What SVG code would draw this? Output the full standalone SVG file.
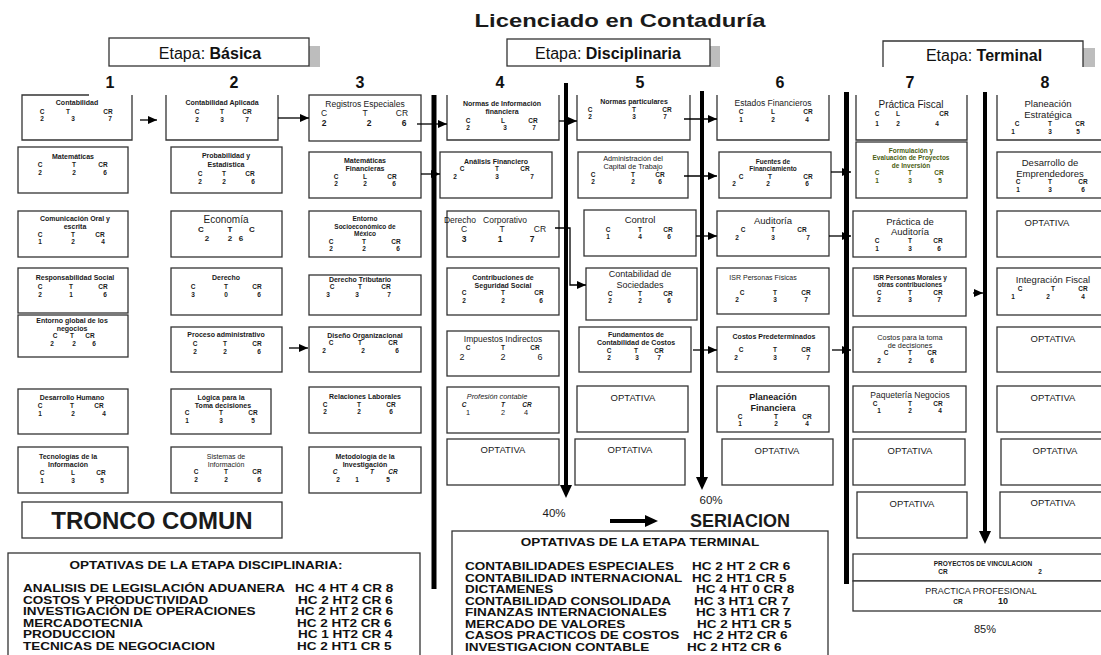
<svg xmlns="http://www.w3.org/2000/svg" width="1101" height="655" viewBox="0 0 1101 655">
<style>
text{font-family:"Liberation Sans",Arial,sans-serif;fill:#1a1a1a;text-anchor:middle}
.bx{fill:#fff;stroke:#333;stroke-width:1.3}
.ob{fill:#fff;stroke:#333;stroke-width:1.3}
.b7{font-weight:bold;font-size:7px}
.b6{font-weight:bold;font-size:6.5px}
.r7{font-size:7.3px}
.r8{font-size:8.5px}
.r9{font-size:9px}
.r10{font-size:10px}
.op{font-size:9.5px}
.it{font-style:italic}
.grn{fill:#4b5e12}
.lst{font-weight:bold;font-size:10.4px;text-anchor:start;fill:#111}
.lt{font-weight:bold;font-size:10.4px;fill:#111}
.num{font-weight:bold;font-size:16px;fill:#111}
.et{font-size:16px;fill:#111}
.conn{stroke:#000;stroke-width:1.3;fill:none;marker-end:url(#ah)}
.bar{stroke:#000;fill:none}
.sh{fill:#bdbdbd}
</style>
<defs>
<marker id="ah" markerWidth="9" markerHeight="8" refX="9" refY="4" orient="auto" markerUnits="userSpaceOnUse"><path d="M0,0 L9,4 L0,8 Z" fill="#000"/></marker>
</defs>

<text x="620" y="27" font-weight="bold" font-size="19" textLength="291" lengthAdjust="spacingAndGlyphs" fill="#111">Licenciado en Contaduría</text>

<g id="etapa-basica"><rect class="sh" x="309" y="46" width="11" height="21"/><rect class="bx" x="109" y="38" width="200" height="28"/><text class="et" x="210" y="58.5">Etapa: <tspan font-weight="bold">Básica</tspan></text></g>
<g id="etapa-disciplinaria"><rect class="sh" x="710" y="46" width="10" height="21"/><rect class="bx" x="507" y="39" width="203" height="27"/><text class="et" x="608" y="58.5">Etapa: <tspan font-weight="bold">Disciplinaria</tspan></text></g>
<g id="etapa-terminal"><rect class="sh" x="1083" y="48" width="12" height="19"/><path class="ob" d="M883,67 V41 H1083 V67"/><text class="et" x="984" y="60.5">Etapa: <tspan font-weight="bold">Terminal</tspan></text></g>

<g id="semestres">
<text class="num" x="110" y="88">1</text><text class="num" x="234" y="88">2</text><text class="num" x="360" y="88">3</text><text class="num" x="500" y="88">4</text>
<text class="num" x="640" y="88">5</text><text class="num" x="780" y="88">6</text><text class="num" x="910" y="88">7</text><text class="num" x="1045" y="88">8</text>
</g>

<!-- Column 1 -->
<g id="n-contabilidad"><path class="ob" d="M89,95 H22 V140 H132 V95"/><text class="b7" x="77" y="105">Contabilidad</text><text class="b6" y="113.5"><tspan x="42">C</tspan><tspan x="68">T</tspan><tspan x="108">CR</tspan></text><text class="b6" y="121"><tspan x="42">2</tspan><tspan x="73">3</tspan><tspan x="110">7</tspan></text></g>
<g id="n-matematicas"><rect class="bx" x="18" y="147" width="110" height="46"/><text class="b7" x="73" y="159">Matemáticas</text><text class="b6" y="166.5"><tspan x="40">C</tspan><tspan x="74">T</tspan><tspan x="103">CR</tspan></text><text class="b6" y="174.5"><tspan x="40">2</tspan><tspan x="74">2</tspan><tspan x="105">6</tspan></text></g>
<g id="n-comunicacion"><rect class="bx" x="18" y="211" width="110" height="46"/><text class="b7" x="75" y="221">Comunicación Oral y</text><text class="b7" x="75" y="229">escrita</text><text class="b6" y="236.5"><tspan x="40">C</tspan><tspan x="73">T</tspan><tspan x="100">CR</tspan></text><text class="b6" y="244"><tspan x="40">1</tspan><tspan x="73">2</tspan><tspan x="103">4</tspan></text></g>
<g id="n-responsabilidad"><rect class="bx" x="18" y="268" width="110" height="45"/><text class="b7" x="75" y="280">Responsabilidad Social</text><text class="b6" y="289"><tspan x="40">C</tspan><tspan x="71">T</tspan><tspan x="103">CR</tspan></text><text class="b6" y="297"><tspan x="40">2</tspan><tspan x="71">1</tspan><tspan x="105">6</tspan></text></g>
<g id="n-entorno-global"><rect class="bx" x="18" y="315" width="110" height="42"/><text class="b7" x="72" y="322.5">Entorno global de los</text><text class="b7" x="72" y="330.5">negocios</text><text class="b6" y="338"><tspan x="55">C</tspan><tspan x="72">T</tspan><tspan x="90">CR</tspan></text><text class="b6" y="345.5"><tspan x="52">2</tspan><tspan x="74">2</tspan><tspan x="94">6</tspan></text></g>
<g id="n-desarrollo-humano"><rect class="bx" x="18" y="389" width="110" height="45"/><text class="b7" x="72" y="400">Desarrollo Humano</text><text class="b6" y="408"><tspan x="40">C</tspan><tspan x="72">T</tspan><tspan x="99">CR</tspan></text><text class="b6" y="416"><tspan x="40">1</tspan><tspan x="73">2</tspan><tspan x="104">4</tspan></text></g>
<g id="n-tecnologias"><rect class="bx" x="18" y="447" width="110" height="46"/><text class="b7" x="68" y="459">Tecnologías de la</text><text class="b7" x="68" y="467">Información</text><text class="b6" y="475"><tspan x="42">C</tspan><tspan x="73">L</tspan><tspan x="101">CR</tspan></text><text class="b6" y="483"><tspan x="42">1</tspan><tspan x="73">3</tspan><tspan x="102">5</tspan></text></g>
<g id="tronco-comun"><rect class="bx" x="22" y="502" width="260" height="36"/><text x="152" y="528.5" font-weight="bold" font-size="24" fill="#111">TRONCO COMUN</text></g>

<!-- Column 2 -->
<g id="n-contabilidad-aplicada"><path class="ob" d="M166,95 V140 H278 V95"/><text class="b7" x="222" y="105">Contabilidad Aplicada</text><text class="b6" y="113.5"><tspan x="197">C</tspan><tspan x="222">T</tspan><tspan x="247">CR</tspan></text><text class="b6" y="122"><tspan x="197">2</tspan><tspan x="222">3</tspan><tspan x="247">7</tspan></text></g>
<g id="n-probabilidad"><rect class="bx" x="171" y="147" width="111" height="46"/><text class="b7" x="226" y="158">Probabilidad y</text><text class="b7" x="226" y="167">Estadística</text><text class="b6" y="176"><tspan x="200">C</tspan><tspan x="224">T</tspan><tspan x="250">CR</tspan></text><text class="b6" y="184"><tspan x="200">2</tspan><tspan x="224">2</tspan><tspan x="253">6</tspan></text></g>
<g id="n-economia"><rect class="bx" x="171" y="211" width="111" height="46"/><text class="r10" x="226" y="222.5">Economía</text><text font-size="8px" font-weight="bold" y="232"><tspan x="201">C</tspan><tspan x="230">T</tspan><tspan x="252">C</tspan></text><text font-size="8px" font-weight="bold" y="241"><tspan x="207">2</tspan><tspan x="230">2</tspan><tspan x="241">6</tspan></text></g>
<g id="n-derecho"><rect class="bx" x="171" y="268" width="111" height="47"/><text class="b7" x="226" y="280">Derecho</text><text class="b6" y="289"><tspan x="193">C</tspan><tspan x="226">T</tspan><tspan x="257">CR</tspan></text><text class="b6" y="297"><tspan x="193">3</tspan><tspan x="226">0</tspan><tspan x="259">6</tspan></text></g>
<g id="n-proceso"><rect class="bx" x="171" y="327" width="111" height="45"/><text class="b7" x="226" y="337">Proceso administrativo</text><text class="b6" y="345.5"><tspan x="195">C</tspan><tspan x="225">T</tspan><tspan x="257">CR</tspan></text><text class="b6" y="354"><tspan x="195">2</tspan><tspan x="225">2</tspan><tspan x="259">6</tspan></text></g>
<g id="n-logica"><rect class="bx" x="171" y="389" width="100" height="45"/><text class="b7" x="221" y="399.5">Lógica para la</text><text class="b7" x="223" y="407.5">Toma decisiones</text><text class="b6" y="415"><tspan x="187">C</tspan><tspan x="221">T</tspan><tspan x="253">CR</tspan></text><text class="b6" y="422.5"><tspan x="187">1</tspan><tspan x="221">3</tspan><tspan x="253">5</tspan></text></g>
<g id="n-sistemas"><rect class="bx" x="171" y="447" width="111" height="46"/><text font-size="7px" x="226" y="458.5">Sistemas de</text><text font-size="7px" x="226" y="466.5">Información</text><text class="b6" y="474"><tspan x="196">C</tspan><tspan x="226">T</tspan><tspan x="257">CR</tspan></text><text class="b6" y="481.5"><tspan x="196">2</tspan><tspan x="226">2</tspan><tspan x="259">6</tspan></text></g>

<!-- Column 3 -->
<g id="n-registros"><rect class="bx" x="309" y="95" width="112" height="46"/><text class="r8" x="365" y="106.5">Registros Especiales</text><text class="r8" y="116"><tspan x="324">C</tspan><tspan x="365">T</tspan><tspan x="402">CR</tspan></text><text class="r8" font-weight="bold" y="125.5"><tspan x="324">2</tspan><tspan x="369">2</tspan><tspan x="404">6</tspan></text></g>
<g id="n-mat-financieras"><rect class="bx" x="309" y="152" width="112" height="46"/><text class="b7" x="365" y="163">Matemáticas</text><text class="b7" x="365" y="171">Financieras</text><text class="b6" y="178.5"><tspan x="336">C</tspan><tspan x="365">L</tspan><tspan x="392">CR</tspan></text><text class="b6" y="186"><tspan x="336">2</tspan><tspan x="365">2</tspan><tspan x="394">6</tspan></text></g>
<g id="n-entorno-socio"><rect class="bx" x="309" y="211" width="112" height="46"/><text class="b6" x="365" y="221">Entorno</text><text class="b6" x="365" y="228.5">Socioeconómico de</text><text class="b6" x="365" y="236">México</text><text class="b6" y="243.5"><tspan x="331">C</tspan><tspan x="364">T</tspan><tspan x="396">CR</tspan></text><text class="b6" y="251"><tspan x="331">2</tspan><tspan x="364">2</tspan><tspan x="398">6</tspan></text></g>
<g id="n-derecho-tributario"><rect class="bx" x="309" y="275" width="112" height="40"/><text class="b7" x="360" y="281.5">Derecho Tributario</text><text class="b6" y="289"><tspan x="332">C</tspan><tspan x="360">T</tspan><tspan x="386">CR</tspan></text><text class="b6" y="296.5"><tspan x="328">3</tspan><tspan x="357">3</tspan><tspan x="389">7</tspan></text></g>
<g id="n-diseno"><rect class="bx" x="309" y="327" width="112" height="45"/><text class="b7" x="365" y="337.5">Diseño Organizacional</text><text class="b6" y="345"><tspan x="331">C</tspan><tspan x="360">T</tspan><tspan x="393">CR</tspan></text><text class="b6" y="352.5"><tspan x="324">2</tspan><tspan x="363">2</tspan><tspan x="397">6</tspan></text></g>
<g id="n-relaciones"><rect class="bx" x="309" y="387" width="112" height="46"/><text class="b7" x="365" y="399">Relaciones Laborales</text><text class="b6" y="406.5"><tspan x="325">C</tspan><tspan x="359">T</tspan><tspan x="391">CR</tspan></text><text class="b6" y="414"><tspan x="325">2</tspan><tspan x="359">2</tspan><tspan x="391">6</tspan></text></g>
<g id="n-metodologia"><rect class="bx" x="309" y="447" width="112" height="46"/><text class="b7" x="365" y="458.5">Metodología de la</text><text class="b7" x="365" y="466.5">Investigación</text><text class="b6 it" y="474"><tspan x="335">C</tspan><tspan x="372">T</tspan><tspan x="393">CR</tspan></text><text class="b6" y="481.5"><tspan x="338">2</tspan><tspan x="357">1</tspan><tspan x="388">5</tspan></text></g>

<!-- Column 4 -->
<g id="n-normas-info"><path class="ob" d="M447,95 V140 H559 V95"/><text class="b7" x="502" y="105.5">Normas  de Información</text><text class="b7" x="502" y="114">financiera</text><text class="b6" y="122.5"><tspan x="468">C</tspan><tspan x="503">L</tspan><tspan x="533">CR</tspan></text><text class="b6" y="130"><tspan x="468">2</tspan><tspan x="505">3</tspan><tspan x="534">7</tspan></text></g>
<g id="n-analisis"><rect class="bx" x="440" y="152" width="112" height="46"/><text class="b7" x="496" y="163.5">Análisis Financiero</text><text class="b6" y="171"><tspan x="462">C</tspan><tspan x="497">T</tspan><tspan x="525">CR</tspan></text><text class="b6" y="178.5"><tspan x="455">2</tspan><tspan x="497">3</tspan><tspan x="532">7</tspan></text></g>
<g id="n-derecho-corp"><rect class="bx" x="447" y="211" width="112" height="46"/><text class="r8" x="460" y="222.5" text-anchor="start">Derecho</text><text class="r8" x="505" y="222.5" text-anchor="start">Corporativo</text><text class="r8" y="232"><tspan x="464">C</tspan><tspan x="502">T</tspan><tspan x="540">CR</tspan></text><text class="r8" font-weight="bold" y="241.5"><tspan x="464">3</tspan><tspan x="500">1</tspan><tspan x="532">7</tspan></text></g>
<g id="n-contribuciones"><rect class="bx" x="447" y="268" width="112" height="47"/><text class="b7" x="503" y="279.5">Contribuciones de</text><text class="b7" x="503" y="287.5">Seguridad Social</text><text class="b6" y="295"><tspan x="464">C</tspan><tspan x="503">T</tspan><tspan x="539">CR</tspan></text><text class="b6" y="302.5"><tspan x="464">2</tspan><tspan x="503">2</tspan><tspan x="541">6</tspan></text></g>
<g id="n-impuestos"><rect class="bx" x="447" y="331" width="112" height="45"/><text class="r8" x="503" y="342">Impuestos Indirectos</text><text class="b6" y="350"><tspan x="468">C</tspan><tspan x="503">T</tspan><tspan x="535">CR</tspan></text><text class="r9" y="359.5"><tspan x="462">2</tspan><tspan x="503">2</tspan><tspan x="540">6</tspan></text></g>
<g id="n-profesion"><rect class="bx" x="447" y="387" width="112" height="46"/><text class="r7 it" x="497" y="399">Profesión contable</text><text class="b6 it" y="406.5"><tspan x="464">C</tspan><tspan x="503">T</tspan><tspan x="527">CR</tspan></text><text class="r7" y="414.5"><tspan x="468">1</tspan><tspan x="503">2</tspan><tspan x="526">4</tspan></text></g>
<g id="n-opt-4"><rect class="bx" x="447" y="439" width="112" height="46"/><text class="op" x="503" y="452.5">OPTATIVA</text></g>

<!-- Column 5 -->
<g id="n-normas-part"><path class="ob" d="M577,95 V140 H690 V95"/><text class="b7" x="634" y="104">Normas particulares</text><text class="b6" y="111.5"><tspan x="590">C</tspan><tspan x="634">T</tspan><tspan x="667">CR</tspan></text><text class="b6" y="119"><tspan x="590">2</tspan><tspan x="634">3</tspan><tspan x="665">7</tspan></text></g>
<g id="n-administracion"><rect class="bx" x="578" y="152" width="110" height="46"/><text class="r7" x="633" y="161">Administración del</text><text class="r7" x="633" y="169">Capital de Trabajo</text><text class="b6" y="176.5"><tspan x="593">C</tspan><tspan x="633">T</tspan><tspan x="660">CR</tspan></text><text class="b6" y="184"><tspan x="593">2</tspan><tspan x="633">2</tspan><tspan x="660">6</tspan></text></g>
<g id="n-control"><rect class="bx" x="584" y="210" width="112" height="46"/><text class="op" x="640" y="223">Control</text><text class="b6" y="231.5"><tspan x="608">C</tspan><tspan x="640">T</tspan><tspan x="668">CR</tspan></text><text class="b6" y="239"><tspan x="608">1</tspan><tspan x="640">4</tspan><tspan x="669">6</tspan></text></g>
<g id="n-cont-sociedades"><rect class="bx" x="586" y="268" width="111" height="52"/><text class="r9" font-size="9.3px" x="640" y="277">Contabilidad de</text><text class="r9" font-size="9.3px" x="640" y="287.5">Sociedades</text><text class="b6" y="295.5"><tspan x="610">C</tspan><tspan x="640">T</tspan><tspan x="668">CR</tspan></text><text class="b6" y="303"><tspan x="610">2</tspan><tspan x="640">2</tspan><tspan x="669">6</tspan></text></g>
<g id="n-fundamentos"><rect class="bx" x="579" y="327" width="112" height="45"/><text class="b7" x="636" y="337">Fundamentos de</text><text class="b7" x="636" y="345">Contabilidad de Costos</text><text class="b6" y="352.5"><tspan x="609">C</tspan><tspan x="636">T</tspan><tspan x="659">CR</tspan></text><text class="b6" y="360"><tspan x="609">2</tspan><tspan x="637">3</tspan><tspan x="659">7</tspan></text></g>
<g id="n-opt-5a"><rect class="bx" x="577" y="386" width="111" height="46"/><text class="op" x="633" y="400.5">OPTATIVA</text></g>
<g id="n-opt-5b"><rect class="bx" x="575" y="439" width="110" height="46"/><text class="op" x="630" y="452.5">OPTATIVA</text></g>

<!-- Column 6 -->
<g id="n-estados"><path class="ob" d="M717,95 V140 H829 V95"/><text class="r8" x="773" y="105.5">Estados Financieros</text><text class="b6" y="113.5"><tspan x="741">C</tspan><tspan x="773">L</tspan><tspan x="808">CR</tspan></text><text class="b6" y="122"><tspan x="741">1</tspan><tspan x="773">2</tspan><tspan x="807">4</tspan></text></g>
<g id="n-fuentes"><rect class="bx" x="719" y="152" width="112" height="46"/><text class="b6" x="773" y="163.5">Fuentes de</text><text class="b6" x="773" y="171">Financiamiento</text><text class="b6" y="178.5"><tspan x="741">C</tspan><tspan x="770">T</tspan><tspan x="808">CR</tspan></text><text class="b6" y="186"><tspan x="734">2</tspan><tspan x="768">2</tspan><tspan x="807">6</tspan></text></g>
<g id="n-auditoria"><rect class="bx" x="717" y="211" width="112" height="45"/><text class="op" x="773" y="224">Auditoría</text><text class="b6" y="232"><tspan x="743">C</tspan><tspan x="773">T</tspan><tspan x="802">CR</tspan></text><text class="b6" y="239.5"><tspan x="737">2</tspan><tspan x="773">3</tspan><tspan x="808">7</tspan></text></g>
<g id="n-isr-fisicas"><rect class="bx" x="717" y="268" width="112" height="46"/><text font-size="7px" x="763" y="279.5">ISR Personas Físicas</text><text class="b6" y="294.5"><tspan x="742">C</tspan><tspan x="775">T</tspan><tspan x="806">CR</tspan></text><text class="b6" y="302"><tspan x="737">2</tspan><tspan x="775">3</tspan><tspan x="806">7</tspan></text></g>
<g id="n-costos-pred"><rect class="bx" x="717" y="327" width="112" height="45"/><text class="b7" x="774" y="338.5">Costos Predeterminados</text><text class="b6" y="351.5"><tspan x="741">C</tspan><tspan x="775">T</tspan><tspan x="806">CR</tspan></text><text class="b6" y="359.5"><tspan x="736">2</tspan><tspan x="775">3</tspan><tspan x="808">7</tspan></text></g>
<g id="n-planeacion-fin"><rect class="bx" x="717" y="386" width="112" height="46"/><text class="r9" font-weight="bold" x="773" y="400">Planeación</text><text class="r9" font-weight="bold" x="773" y="410.5">Financiera</text><text class="b6" y="418.5"><tspan x="740">C</tspan><tspan x="776">T</tspan><tspan x="807">CR</tspan></text><text class="b6" y="426"><tspan x="740">1</tspan><tspan x="776">2</tspan><tspan x="807">4</tspan></text></g>
<g id="n-opt-6"><rect class="bx" x="722" y="439" width="111" height="46"/><text class="op" x="777" y="453.5">OPTATIVA</text></g>

<!-- Column 7 -->
<g id="n-practica-fiscal"><path class="ob" d="M856,95 V140 H967 V95"/><text class="r10" x="911" y="107.5">Práctica Fiscal</text><text class="b6" y="116"><tspan x="877">C</tspan><tspan x="898">L</tspan><tspan x="944">CR</tspan></text><text class="b6" y="125.5"><tspan x="877">1</tspan><tspan x="898">2</tspan><tspan x="937">4</tspan></text></g>
<g id="n-formulacion"><rect class="bx" x="856" y="142" width="111" height="56"/><text class="b6 grn" x="911" y="152.5">Formulación y</text><text class="b6 grn" x="911" y="160">Evaluación de Proyectos</text><text class="b6 grn" x="911" y="167.5">de Inversión</text><text class="b6 grn" y="175"><tspan x="877">C</tspan><tspan x="910">T</tspan><tspan x="939">CR</tspan></text><text class="b6 grn" y="182.5"><tspan x="877">1</tspan><tspan x="910">3</tspan><tspan x="940">5</tspan></text></g>
<g id="n-practica-aud"><rect class="bx" x="853" y="211" width="113" height="46"/><text class="op" x="910" y="224.5">Práctica de</text><text class="op" x="910" y="235">Auditoría</text><text class="b6" y="243"><tspan x="877">C</tspan><tspan x="910">T</tspan><tspan x="938">CR</tspan></text><text class="b6" y="250.5"><tspan x="877">1</tspan><tspan x="910">3</tspan><tspan x="939">6</tspan></text></g>
<g id="n-isr-morales"><rect class="bx" x="853" y="268" width="113" height="48"/><text class="b6" x="910" y="279.5">ISR Personas Morales y</text><text class="b6" x="910" y="287">otras contribuciones</text><text class="b6" y="294.5"><tspan x="879">C</tspan><tspan x="910">T</tspan><tspan x="938">CR</tspan></text><text class="b6" y="302"><tspan x="879">2</tspan><tspan x="910">3</tspan><tspan x="939">7</tspan></text></g>
<g id="n-costos-decisiones"><rect class="bx" x="853" y="327" width="113" height="45"/><text class="r7" x="910" y="339.5">Costos para la toma</text><text class="r7" x="910" y="347.5">de decisiones</text><text class="b6" y="355"><tspan x="886">C</tspan><tspan x="910">T</tspan><tspan x="932">CR</tspan></text><text class="b6" y="362.5"><tspan x="879">2</tspan><tspan x="910">2</tspan><tspan x="932">6</tspan></text></g>
<g id="n-paqueteria"><rect class="bx" x="853" y="386" width="113" height="46"/><text class="r8" x="910" y="397.5">Paquetería Negocios</text><text class="b6" y="405.5"><tspan x="875">C</tspan><tspan x="910">T</tspan><tspan x="938">CR</tspan></text><text class="b6" y="413"><tspan x="879">1</tspan><tspan x="910">2</tspan><tspan x="940">4</tspan></text></g>
<g id="n-opt-7a"><rect class="bx" x="853" y="439" width="112" height="46"/><text class="op" x="910" y="453.5">OPTATIVA</text></g>
<g id="n-opt-7b"><rect class="bx" x="857" y="492" width="110" height="46"/><text class="op" x="912" y="506.5">OPTATIVA</text></g>

<!-- Column 8 -->
<g id="n-planeacion-est"><path class="ob" d="M997,95 V140 H1105"/><text class="op" x="1048" y="106.5">Planeación</text><text class="op" x="1048" y="117.5">Estratégica</text><text class="b6" y="126"><tspan x="1017">C</tspan><tspan x="1050">T</tspan><tspan x="1080">CR</tspan></text><text class="b6" y="133.5"><tspan x="1013">1</tspan><tspan x="1050">3</tspan><tspan x="1078">5</tspan></text></g>
<g id="n-desarrollo-emp"><rect class="bx" x="997" y="152" width="110" height="46"/><text class="op" x="1050" y="165.5">Desarrollo de</text><text class="op" x="1050" y="176.5">Emprendedores</text><text class="b6" y="184"><tspan x="1018">C</tspan><tspan x="1050">T</tspan><tspan x="1083">CR</tspan></text><text class="b6" y="191.5"><tspan x="1018">1</tspan><tspan x="1050">3</tspan><tspan x="1083">6</tspan></text></g>
<g id="n-opt-8a"><rect class="bx" x="997" y="211" width="110" height="46"/><text class="op" x="1047" y="225.5">OPTATIVA</text></g>
<g id="n-integracion"><rect class="bx" x="997" y="268" width="110" height="47"/><text class="op" x="1053" y="282.5">Integración Fiscal</text><text class="b6" y="291"><tspan x="1020">C</tspan><tspan x="1053">T</tspan><tspan x="1083">CR</tspan></text><text class="b6" y="298.5"><tspan x="1013">1</tspan><tspan x="1048">2</tspan><tspan x="1083">4</tspan></text></g>
<g id="n-opt-8b"><rect class="bx" x="997" y="327" width="110" height="45"/><text class="op" x="1053" y="341.5">OPTATIVA</text></g>
<g id="n-opt-8c"><rect class="bx" x="997" y="386" width="110" height="46"/><text class="op" x="1053" y="400.5">OPTATIVA</text></g>
<g id="n-opt-8d"><rect class="bx" x="1001" y="439" width="110" height="46"/><text class="op" x="1055" y="453.5">OPTATIVA</text></g>
<g id="n-opt-8e"><rect class="bx" x="1000" y="492" width="110" height="46"/><text class="op" x="1053" y="505.5">OPTATIVA</text></g>

<g id="n-proyectos"><rect class="bx" x="853" y="554" width="252" height="27"/><text class="b6" x="983" y="565.5">PROYECTOS DE VINCULACION</text><text class="b6" y="574" font-size="5.5px"><tspan x="943">CR</tspan><tspan x="1040">2</tspan></text></g>
<g id="n-practica-prof"><rect class="bx" x="853" y="581" width="252" height="30"/><text class="r9" x="981" y="594">PRACTICA PROFESIONAL</text><text class="b6" font-size="5.5px" x="958" y="604">CR</text><text class="r9" font-weight="bold" x="1003" y="604">10</text></g>
<text x="985" y="633" font-size="11" fill="#111">85%</text>

<!-- Bars and connectors -->
<g id="connectors">
<line class="bar" x1="434" y1="95" x2="434" y2="589" stroke-width="5"/>
<line class="bar" x1="566" y1="83" x2="566" y2="487" stroke-width="4"/>
<polygon points="560,485 572,485 566,498" fill="#000"/>
<line class="bar" x1="702" y1="91" x2="702" y2="478" stroke-width="4"/>
<polygon points="696,477 708,477 702,490" fill="#000"/>
<line class="bar" x1="846.5" y1="92" x2="846.5" y2="584" stroke-width="5"/>
<line class="bar" x1="985" y1="92" x2="985" y2="533" stroke-width="4"/>
<polygon points="979,531 991,531 985,544" fill="#000"/>
<path class="conn" d="M140,120 H157"/>
<path class="conn" d="M278,118 H309"/>
<path class="conn" d="M417,124 H447"/>
<path class="conn" d="M421,174 H440"/>
<path class="conn" d="M289,348 H308"/>
<path class="conn" d="M559,121 H577"/>
<path class="conn" d="M555,228 H570 V285 H586"/>
<path class="conn" d="M684,119 H717"/>
<path class="conn" d="M684,176 H717"/>
<path class="conn" d="M696,236 H717"/>
<path class="conn" d="M693,350 H717"/>
<path class="conn" d="M831,172 H851"/>
<path class="conn" d="M829,236 H851"/>
<path class="conn" d="M832,350 H851"/>
<path class="conn" d="M973,293 H983"/>
<line x1="610" y1="521" x2="647" y2="521" stroke="#000" stroke-width="4"/>
<polygon points="645,515 658,521 645,527" fill="#000"/>
</g>

<text x="554" y="517" font-size="11.5" fill="#111">40%</text>
<text x="711" y="504" font-size="11.5" fill="#111">60%</text>
<text x="740" y="527" font-weight="bold" font-size="18" fill="#111">SERIACION</text>

<g id="optativas-disciplinaria">
<rect class="bx" x="8" y="553" width="412" height="110"/>
<g transform="scale(1.3,1)">
<text class="lt" x="158.5" y="569">OPTATIVAS DE LA ETAPA DISCIPLINARIA:</text>
<text class="lst" x="17.7" y="592">ANALISIS DE LEGISLACIÓN ADUANERA</text><text class="lst" x="226.9" y="592">HC 4 HT 4 CR 8</text>
<text class="lst" x="17.7" y="603.6">COSTOS Y PRODUCTIVIDAD</text><text class="lst" x="229.2" y="603.6">HC 2 HT2 CR 6</text>
<text class="lst" x="17.7" y="615.2">INVESTIGACIÓN DE OPERACIONES</text><text class="lst" x="226.9" y="615.2">HC 2 HT 2 CR 6</text>
<text class="lst" x="17.7" y="626.8">MERCADOTECNIA</text><text class="lst" x="228.5" y="626.8">HC 2 HT2 CR 6</text>
<text class="lst" x="17.7" y="638.4">PRODUCCION</text><text class="lst" x="229.2" y="638.4">HC 1 HT2 CR 4</text>
<text class="lst" x="17.7" y="650">TECNICAS DE NEGOCIACION</text><text class="lst" x="228.5" y="650">HC 2 HT1 CR 5</text>
</g>
</g>

<g id="optativas-terminal">
<rect class="bx" x="452" y="531" width="376" height="130"/>
<g transform="scale(1.3,1)">
<text class="lt" x="492.3" y="546.5">OPTATIVAS DE LA ETAPA TERMINAL</text>
<text class="lst" x="357.7" y="570.5">CONTABILIDADES ESPECIALES</text><text class="lst" x="532.3" y="570.5">HC 2 HT 2 CR 6</text>
<text class="lst" x="357.7" y="582">CONTABILIDAD INTERNACIONAL</text><text class="lst" x="532.3" y="582">HC 2 HT1 CR 5</text>
<text class="lst" x="357.7" y="593.5">DICTAMENES</text><text class="lst" x="535.4" y="593.5">HC 4 HT 0 CR 8</text>
<text class="lst" x="357.7" y="605">CONTABILIDAD CONSOLIDADA</text><text class="lst" x="533.8" y="605">HC 3 HT1 CR 7</text>
<text class="lst" x="357.7" y="616.5">FINANZAS INTERNACIONALES</text><text class="lst" x="535.4" y="616.5">HC 3 HT1 CR 7</text>
<text class="lst" x="357.7" y="628">MERCADO DE VALORES</text><text class="lst" x="536.2" y="628">HC 2 HT1 CR 5</text>
<text class="lst" x="357.7" y="639.5">CASOS PRACTICOS DE COSTOS</text><text class="lst" x="533.1" y="639.5">HC 2 HT2 CR 6</text>
<text class="lst" x="357.7" y="651">INVESTIGACION CONTABLE</text><text class="lst" x="528.5" y="651">HC 2 HT2 CR 6</text>
</g>
</g>
</svg>
